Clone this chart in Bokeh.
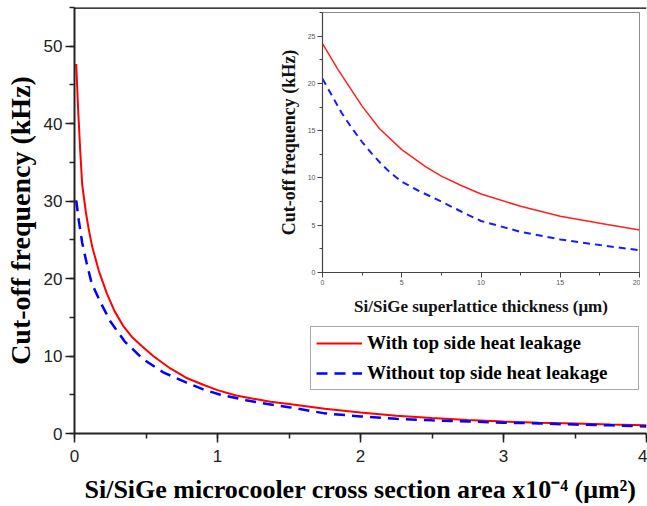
from bokeh.plotting import figure
from bokeh.models import Span, Legend, LegendItem, Range1d, SingleIntervalTicker
from bokeh.layouts import column
from bokeh.embed import file_html
from bokeh.resources import INLINE

# ---- main chart data (area x1e-4 um^2 -> cut-off frequency kHz) ----
area_with = [0.012, 0.025, 0.04, 0.054, 0.08, 0.1, 0.124, 0.17, 0.226, 0.28, 0.34, 0.4,
             0.47, 0.55, 0.67, 0.78, 0.9, 1.0, 1.13, 1.25, 1.37, 1.5, 1.75, 2.0, 2.25,
             2.5, 2.75, 3.0, 3.25, 3.5, 3.75, 4.0]
freq_with = [47.7, 42.0, 36.5, 32.1, 28.5, 26.3, 24.1, 21.0, 18.1, 15.8, 13.9, 12.5,
             11.3, 10.0, 8.4, 7.2, 6.3, 5.6, 4.9, 4.5, 4.1, 3.8, 3.2, 2.7, 2.3,
             2.0, 1.75, 1.55, 1.4, 1.3, 1.15, 1.05]
area_without = [0.012, 0.03, 0.054, 0.085, 0.12, 0.18, 0.25, 0.35, 0.48, 0.62, 0.78, 0.9,
                1.02, 1.2, 1.35, 1.5, 1.75, 2.0, 2.25, 2.5, 2.75, 3.0, 3.25, 3.5, 3.75, 4.0]
freq_without = [30.1, 27.5, 24.6, 22.0, 19.4, 17.0, 14.5, 11.9, 9.6, 7.9, 6.6, 5.7,
                5.0, 4.3, 3.8, 3.4, 2.6, 2.2, 1.9, 1.7, 1.55, 1.4, 1.3, 1.15, 1.05, 0.9]

# ---- inset data (superlattice thickness um -> cut-off frequency kHz) ----
thick_with = [0, 1, 2.5, 3.6, 5, 6.5, 7.5, 8.75, 10, 12.5, 15, 17.5, 20]
inset_with = [24.2, 21.4, 17.6, 15.2, 13.0, 11.2, 10.2, 9.2, 8.3, 7.0, 5.95, 5.2, 4.5]
thick_without = [0, 0.6, 1.2, 1.8, 2.5, 3.1, 3.7, 4.25, 5, 6, 7.5, 8.75, 10, 12.5, 15, 17.5, 20]
inset_without = [20.5, 18.7, 16.9, 15.4, 13.8, 12.6, 11.5, 10.6, 9.6, 8.7, 7.5, 6.45,
                 5.45, 4.3, 3.5, 2.9, 2.35]

labels = ["With top side heat leakage", "Without top side heat leakage"]
main_xlabel = "Si/SiGe microcooler cross section area x10\u207b\u2074 (\u03bcm\u00b2)"
ylabel = "Cut-off frequency (kHz)"
inset_xlabel = "Si/SiGe superlattice thickness (\u03bcm)"

SERIF = "Liberation Serif"
SANS = "Liberation Sans"

# ---------------- main figure ----------------
p = figure(width=647, height=506, title=None,
           x_range=Range1d(0, 4), y_range=Range1d(0, 55),
           output_backend="svg", toolbar_location=None,
           min_border_left=74, min_border_right=1, min_border_top=7, min_border_bottom=72)
p.grid.visible = False
p.outline_line_color = None
p.background_fill_color = "white"
p.border_fill_color = "white"

p.xaxis.ticker = SingleIntervalTicker(interval=1, num_minor_ticks=2)
p.yaxis.ticker = SingleIntervalTicker(interval=10, num_minor_ticks=2)
for ax in (p.xaxis[0], p.yaxis[0]):
    ax.axis_line_width = 2
    ax.axis_line_color = "#222222"
    ax.major_tick_in = 0
    ax.major_tick_out = 9
    ax.minor_tick_in = 0
    ax.minor_tick_out = 5
    ax.major_tick_line_width = 1.5
    ax.minor_tick_line_width = 1.5
    ax.major_tick_line_color = "#222222"
    ax.minor_tick_line_color = "#222222"
    ax.major_label_text_font = SANS
    ax.major_label_text_font_size = "17px"
    ax.major_label_text_color = "#222222"
    ax.axis_label_text_font = SERIF
    ax.axis_label_text_font_style = "bold"
    ax.axis_label_text_color = "black"
p.xaxis.axis_label = main_xlabel
p.xaxis.axis_label_text_font_size = "26px"
p.xaxis.major_label_standoff = 7
p.xaxis.axis_label_standoff = 10
p.yaxis.axis_label = ylabel
p.yaxis.axis_label_text_font_size = "28px"
p.yaxis.major_label_standoff = 3
p.yaxis.axis_label_standoff = 5

p.add_layout(Span(location=55, dimension="width", line_color="black", line_width=2.5))

r1 = p.line(area_with, freq_with, line_color="#ff0000", line_width=2)
r2 = p.line(area_without, freq_without, line_color="#0000ff", line_width=2.5,
            line_dash="11 7")

legend = Legend(items=[LegendItem(label=labels[0], renderers=[r1]),
                       LegendItem(label=labels[1], renderers=[r2])],
                location=(236, 43), orientation="vertical")
legend.label_text_font = SERIF
legend.label_text_font_style = "bold"
legend.label_text_font_size = "19px"
legend.label_text_color = "black"
legend.glyph_width = 46
legend.glyph_height = 18
legend.label_height = 18
legend.label_width = 266
legend.label_standoff = 5
legend.spacing = 8
legend.padding = 5
legend.margin = 0
legend.border_line_color = "#555555"
legend.border_line_width = 1
legend.background_fill_color = "white"
legend.background_fill_alpha = 1
p.add_layout(legend)

# ---------------- inset figure ----------------
q = figure(width=392, height=308, title=None,
           x_range=Range1d(0, 20), y_range=Range1d(0, 27.5),
           output_backend="svg", toolbar_location=None,
           min_border_left=74, min_border_right=1, min_border_top=2, min_border_bottom=46)
q.grid.visible = False
q.outline_line_color = "#8c8c8c"
q.outline_line_width = 1
q.background_fill_color = "white"
q.border_fill_color = "white"
q.xaxis.ticker = SingleIntervalTicker(interval=5, num_minor_ticks=2)
q.yaxis.ticker = SingleIntervalTicker(interval=5, num_minor_ticks=2)
for ax in (q.xaxis[0], q.yaxis[0]):
    ax.axis_line_width = 1.2
    ax.axis_line_color = "#444444"
    ax.major_tick_in = 0
    ax.major_tick_out = 5
    ax.minor_tick_in = 0
    ax.minor_tick_out = 3
    ax.major_tick_line_color = "#444444"
    ax.minor_tick_line_color = "#444444"
    ax.major_label_text_font = SANS
    ax.major_label_text_font_size = "7px"
    ax.major_label_text_color = "#555555"
    ax.major_label_standoff = 2
    ax.axis_label_text_font = SERIF
    ax.axis_label_text_font_style = "bold"
    ax.axis_label_text_color = "#111111"
q.xaxis.axis_label = inset_xlabel
q.xaxis.axis_label_text_font_size = "17px"
q.xaxis.axis_label_standoff = 9
q.yaxis.axis_label = ylabel
q.yaxis.axis_label_text_font_size = "18px"
q.yaxis.axis_label_standoff = 6

q.line(thick_with, inset_with, line_color="#ff2020", line_width=1.5)
q.line(thick_without, inset_without, line_color="#1a1aff", line_width=2, line_dash="7 5")

# place the inset over the upper-right part of the main plot
q.margin = (-496, 0, 0, 248)

layout = column(p, q, spacing=0)

open("out.html", "w").write(file_html(layout, INLINE))
